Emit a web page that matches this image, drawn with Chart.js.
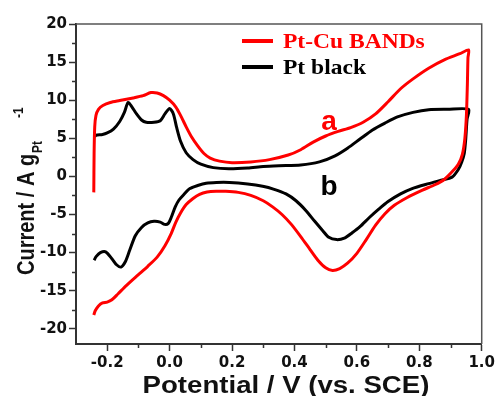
<!DOCTYPE html>
<html>
<head>
<meta charset="utf-8">
<script src="https://cdn.jsdelivr.net/npm/chart.js@4"></script>
<style>
  body { margin: 0; background: #fff; }
  #wrap { width: 498px; height: 396px; }
</style>
</head>
<body>
<div id="wrap"><canvas id="cvChart" width="498" height="396"></canvas></div>
<script>
// Pt-Cu BANDs (red) : potential (V vs SCE) and current (A/g Pt)
const ptCuV = [-0.243, -0.242, -0.240, -0.236, -0.228, -0.214, -0.190, -0.160, -0.117, -0.085,
  -0.060, -0.040, -0.020, 0.000, 0.020, 0.035, 0.053, 0.070, 0.090, 0.110,
  0.130, 0.160, 0.200, 0.260, 0.320, 0.380, 0.420, 0.460, 0.500, 0.540,
  0.580, 0.620, 0.660, 0.700, 0.740, 0.780, 0.830, 0.880, 0.930, 0.958,
  0.956, 0.954, 0.951, 0.946, 0.938, 0.925, 0.905, 0.880, 0.850, 0.810,
  0.760, 0.720, 0.690, 0.660, 0.630, 0.600, 0.570, 0.545, 0.522, 0.500,
  0.475, 0.450, 0.420, 0.390, 0.360, 0.330, 0.300, 0.260, 0.220, 0.180,
  0.149, 0.120, 0.096, 0.075, 0.053, 0.035, 0.020, 0.005, -0.015, -0.040,
  -0.070, -0.100, -0.138, -0.165, -0.185, -0.200, -0.215, -0.228, -0.238, -0.243];
const ptCuI = [-2.1, 3.0, 6.5, 8.0, 8.8, 9.3, 9.7, 9.95, 10.3, 10.6,
  11.0, 10.95, 10.6, 10.0, 9.1, 8.0, 6.5, 5.2, 4.0, 3.0,
  2.4, 2.0, 1.8, 1.9, 2.2, 2.8, 3.5, 4.5, 5.3, 5.9,
  6.4, 7.1, 8.2, 9.8, 11.5, 12.8, 14.2, 15.3, 16.1, 16.6,
  15.6, 12.0, 8.0, 5.0, 2.9, 1.6, 0.6, -0.4, -1.1, -1.8,
  -2.8, -3.8, -4.9, -6.4, -8.3, -10.1, -11.4, -12.1, -12.35, -12.0,
  -11.0, -9.6, -7.9, -6.3, -5.0, -4.0, -3.2, -2.5, -2.1, -1.95,
  -1.95, -2.05, -2.35, -2.9, -3.7, -4.8, -6.0, -7.5, -9.1, -10.6,
  -11.8, -12.9, -14.3, -15.4, -16.2, -16.5, -16.6, -17.0, -17.6, -18.2];

// Pt black (black)
const ptBlackV = [-0.240, -0.236, -0.215, -0.200, -0.180, -0.160, -0.145, -0.133, -0.122, -0.106,
  -0.090, -0.075, -0.050, -0.030, -0.015, 0.000, 0.012, 0.022, 0.035, 0.053,
  0.075, 0.100, 0.140, 0.190, 0.250, 0.300, 0.350, 0.420, 0.480, 0.530,
  0.570, 0.610, 0.650, 0.690, 0.730, 0.780, 0.830, 0.890, 0.958, 0.953,
  0.949, 0.944, 0.936, 0.925, 0.905, 0.870, 0.830, 0.777, 0.740, 0.700,
  0.670, 0.640, 0.610, 0.585, 0.560, 0.535, 0.510, 0.490, 0.465, 0.437,
  0.405, 0.373, 0.335, 0.298, 0.250, 0.192, 0.150, 0.117, 0.090, 0.065,
  0.045, 0.030, 0.018, 0.005, -0.005, -0.016, -0.030, -0.050, -0.070, -0.090,
  -0.110, -0.128, -0.142, -0.156, -0.170, -0.185, -0.205, -0.222, -0.235, -0.242];
const ptBlackI = [5.2, 5.4, 5.5, 5.7, 6.2, 7.2, 8.4, 9.7, 9.2, 8.2,
  7.4, 7.1, 7.1, 7.3, 8.2, 8.9, 8.2, 6.5, 4.6, 3.1,
  2.2, 1.6, 1.15, 1.0, 1.1, 1.3, 1.4, 1.5, 1.9, 2.7,
  3.7, 4.9, 6.1, 7.0, 7.8, 8.4, 8.75, 8.8, 8.8, 7.5,
  5.0, 3.0, 1.9, 0.9, -0.1, -0.5, -0.95, -1.6, -2.3, -3.3,
  -4.3, -5.4, -6.6, -7.4, -8.1, -8.3, -8.0, -7.1, -5.9, -4.5,
  -3.2, -2.3, -1.7, -1.3, -1.0, -0.8, -0.8, -0.9, -1.2, -1.6,
  -2.4, -3.1, -4.0, -5.4, -6.2, -6.3, -6.0, -5.9, -6.1, -6.7,
  -7.8, -9.7, -11.2, -11.9, -11.6, -10.8, -9.9, -10.0, -10.5, -11.0];

const seriesNames = ['Pt-Cu BANDs', 'Pt black'];
const seriesColors = ['#ff0000', '#000000'];

const xTicks = [-0.2, 0.0, 0.2, 0.4, 0.6, 0.8, 1.0];
const xMinorTicks = [-0.1, 0.1, 0.3, 0.5, 0.7, 0.9];
const yTicks = [-20, -15, -10, -5, 0, 5, 10, 15, 20];
const yMinorTicks = [-17.5, -12.5, -7.5, -2.5, 2.5, 7.5, 12.5, 17.5];

const toPoints = (xs, ys) => xs.map((x, i) => ({ x: x, y: ys[i] }));

// frame, minor ticks, legend, titles and a/b labels
const extras = {
  id: 'extras',
  afterDraw(chart) {
    const ctx = chart.ctx;
    const area = chart.chartArea;
    const xs = chart.scales.x;
    const ys = chart.scales.y;
    ctx.save();

    ctx.strokeStyle = '#555';
    ctx.lineWidth = 1.5;
    ctx.beginPath();
    ctx.moveTo(area.left, area.top);
    ctx.lineTo(area.right, area.top);
    ctx.lineTo(area.right, area.bottom);
    ctx.stroke();

    ctx.strokeStyle = '#333';
    ctx.lineWidth = 1.5;
    ctx.beginPath();
    xMinorTicks.forEach(v => {
      const px = Math.round(xs.getPixelForValue(v)) + 0.5;
      ctx.moveTo(px, area.bottom);
      ctx.lineTo(px, area.bottom + 4);
    });
    yMinorTicks.forEach(v => {
      const py = Math.round(ys.getPixelForValue(v)) + 0.5;
      ctx.moveTo(area.left, py);
      ctx.lineTo(area.left - 4, py);
    });
    ctx.stroke();

    // legend
    seriesNames.forEach((name, i) => {
      const y = 41 + i * 26;
      ctx.strokeStyle = seriesColors[i];
      ctx.lineWidth = 4;
      ctx.beginPath();
      ctx.moveTo(242, y);
      ctx.lineTo(273, y);
      ctx.stroke();
      ctx.save();
      ctx.translate(283, y + 6.5);
      ctx.scale(1.12, 1);
      ctx.fillStyle = seriesColors[i];
      ctx.font = 'bold 21px "Liberation Serif"';
      ctx.textBaseline = 'alphabetic';
      ctx.fillText(name, 0, 0);
      ctx.restore();
    });

    // curve labels
    ctx.font = 'bold 28px "Liberation Sans"';
    ctx.textAlign = 'center';
    ctx.textBaseline = 'alphabetic';
    ctx.fillStyle = seriesColors[0];
    ctx.fillText('a', xs.getPixelForValue(0.511), ys.getPixelForValue(6.1));
    ctx.fillStyle = seriesColors[1];
    ctx.fillText('b', xs.getPixelForValue(0.511), ys.getPixelForValue(-2.5));

    // x title
    ctx.save();
    ctx.translate(286, 393);
    ctx.scale(1.2, 1);
    ctx.fillStyle = '#111';
    ctx.font = 'bold 23px "Liberation Sans"';
    ctx.textAlign = 'center';
    ctx.fillText('Potential / V (vs. SCE)', 0, 0);
    ctx.restore();

    // y title with subscript and superscript
    ctx.save();
    ctx.translate(34, 275);
    ctx.rotate(-Math.PI / 2);
    ctx.scale(1, 1.17);
    ctx.fillStyle = '#111';
    ctx.textAlign = 'left';
    ctx.font = 'bold 20px "Liberation Sans"';
    const main = 'Current / A g';
    ctx.fillText(main, 0, 0);
    const w = ctx.measureText(main).width;
    ctx.font = 'bold 12px "Liberation Sans"';
    ctx.fillText('Pt', w + 1, 7);
    ctx.fillText('-1', 157, -9.5);
    ctx.restore();

    ctx.restore();
  }
};

const cvChart = document.getElementById('cvChart');

const cvChart_1 = new Chart(cvChart, {
  type: 'scatter',
  data: {
    datasets: [
      {
        label: seriesNames[0],
        data: toPoints(ptCuV, ptCuI),
        showLine: true,
        borderColor: seriesColors[0],
        backgroundColor: seriesColors[0],
        borderWidth: 3,
        pointRadius: 0,
        tension: 0.25,
      },
      {
        label: seriesNames[1],
        data: toPoints(ptBlackV, ptBlackI),
        showLine: true,
        borderColor: seriesColors[1],
        backgroundColor: seriesColors[1],
        borderWidth: 3,
        pointRadius: 0,
        tension: 0.25,
      }
    ],
  },
  options: {
    responsive: false,
    animation: false,
    layout: {
      padding: { top: 24, right: 16, left: 0, bottom: 0 }
    },
    scales: {
      x: {
        type: 'linear',
        min: -0.3,
        max: 1.0,
        afterFit: (scale) => { scale.height = 52; },
        afterBuildTicks: (scale) => { scale.ticks = xTicks.map(v => ({ value: v })); },
        grid: {
          drawOnChartArea: false,
          tickLength: 7,
          tickWidth: 1.5,
          color: '#333',
        },
        border: { display: true, color: '#333', width: 2 },
        ticks: {
          padding: 3,
          color: '#111',
          maxRotation: 0,
          font: { family: 'DejaVu Sans', weight: 'bold', size: 15 },
          callback: (v) => Number(v).toFixed(1),
        }
      },
      y: {
        type: 'linear',
        min: -22,
        max: 20,
        afterFit: (scale) => { scale.width = 76; },
        afterBuildTicks: (scale) => { scale.ticks = yTicks.map(v => ({ value: v })); },
        grid: {
          drawOnChartArea: false,
          tickLength: 7,
          tickWidth: 1.5,
          color: '#333',
        },
        border: { display: true, color: '#333', width: 2 },
        ticks: {
          padding: 2,
          color: '#111',
          font: { family: 'DejaVu Sans', weight: 'bold', size: 15 },
          callback: (v) => String(v),
        }
      }
    },
    plugins: {
      legend: { display: false },
      tooltip: { enabled: false },
    }
  },
  plugins: [extras],
});
</script>
</body>
</html>
